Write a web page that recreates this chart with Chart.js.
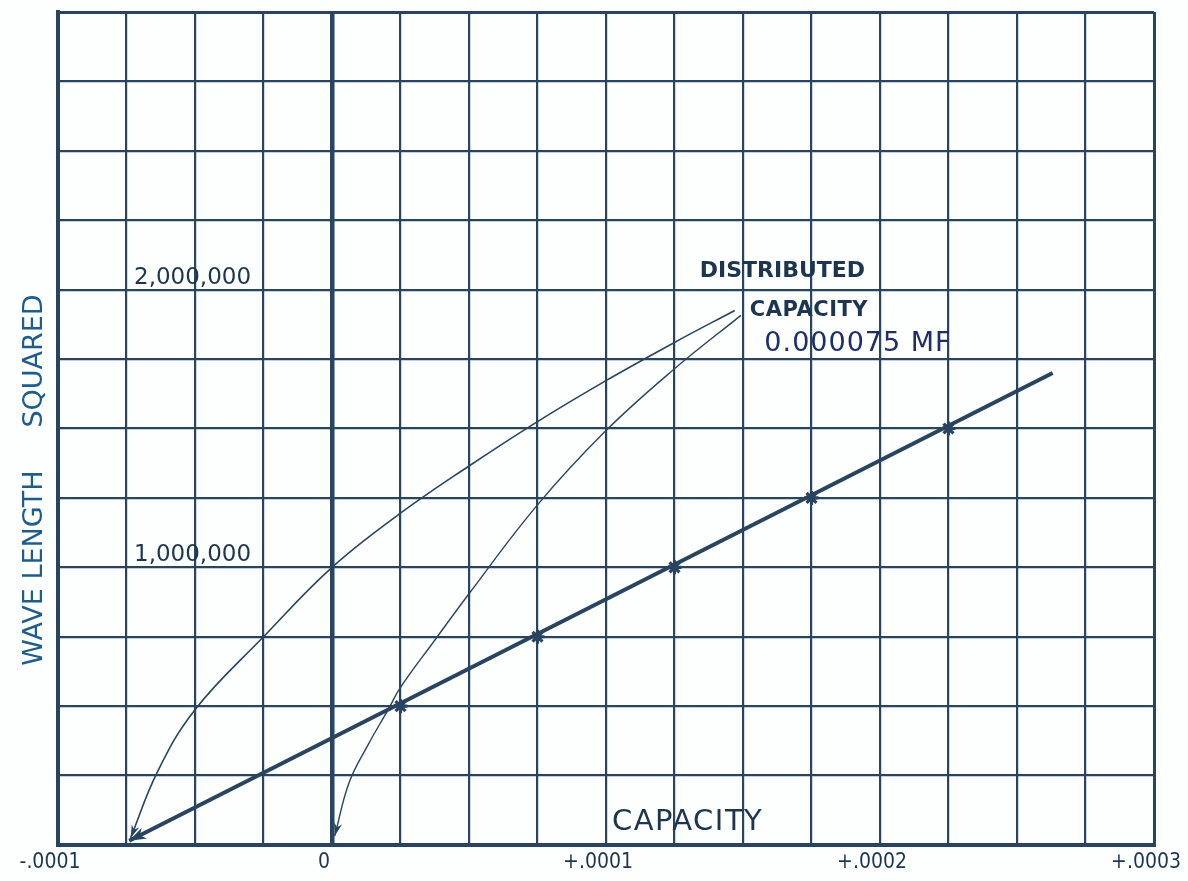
<!DOCTYPE html>
<html>
<head>
<meta charset="utf-8">
<script src="https://cdn.jsdelivr.net/npm/chart.js@4.4.1/dist/chart.umd.min.js"></script>
<style>
  html, body { margin: 0; padding: 0; background: #fdfefe; }
  #wrap { width: 1188px; height: 881px; }
</style>
</head>
<body>
<div id="wrap"><canvas id="chart" width="1188" height="881"></canvas></div>
<script>
// capacity (MF) against wave length squared
const X_TICK_LABELS = ['-.0001', '0', '+.0001', '+.0002', '+.0003'];
const Y_LABEL_VALUES = [1000000, 2000000];
const Y_LABEL_TEXT = ['1,000,000', '2,000,000'];

// measured points
const MEAS_C = [0.000025, 0.000075, 0.000125, 0.000175, 0.000225];
const MEAS_W = [500000, 750000, 1000000, 1250000, 1500000];

// straight line through them, run down to the capacity axis
const LINE_C = [-0.000074, 0.000263];
const LINE_W = [15000, 1700000];

// the two thin leader curves
const UP_C = [-0.0000735, -0.00006375, -0.00005, -0.000025, 0, 0.000025, 0.00005, 0.000075, 0.0001, 0.000125, 0.000147];
const UP_W = [25000, 262500, 487500, 750000, 1000000, 1195000, 1365000, 1525000, 1672500, 1810000, 1925000];
const LO_C = [0.000001, 0.00000625, 0.00001325, 0.0000205, 0.000025, 0.0000375, 0.00005, 0.000075, 0.0001, 0.000125, 0.00014925];
const LO_W = [32500, 225000, 362500, 487500, 567500, 737500, 905000, 1225000, 1492500, 1715000, 1907500];

const INK = '#28445f';
const TEXT = '#1e3550';
const BLUE = '#1d5c8c';
const NAVY = '#1f2d6b';
const FONT = '"DejaVu Sans", sans-serif';

const pts = (xs, ys) => xs.map((x, i) => ({ x, y: ys[i] }));

// lettering written on the sheet, anchored in data units
const NOTES = [
  { text: 'DISTRIBUTED', c: 0.0001342, w: 2066000, font: 'bold 22px ' + FONT, color: TEXT, spacing: 0 },
  { text: 'CAPACITY', c: 0.0001525, w: 1925000, font: 'bold 21px ' + FONT, color: TEXT, spacing: 0.5 },
  { text: '0.000075 MF', c: 0.0001578, w: 1804000, font: '27px ' + FONT, color: NAVY, spacing: 1 },
  { text: 'CAPACITY', c: 0.0001022, w: 81000, font: '29px ' + FONT, color: TEXT, spacing: 1.5 },
];

const notesPlugin = {
  id: 'notes',
  afterDraw(chart) {
    const { ctx, scales: { x, y } } = chart;
    ctx.save();
    ctx.textAlign = 'left';
    ctx.textBaseline = 'middle';
    NOTES.forEach(n => {
      ctx.font = n.font;
      ctx.fillStyle = n.color;
      ctx.letterSpacing = n.spacing + 'px';
      ctx.fillText(n.text, x.getPixelForValue(n.c), y.getPixelForValue(n.w));
    });
    ctx.restore();
  }
};

const arrowHeads = {
  id: 'arrowHeads',
  afterDatasetsDraw(chart) {
    const ctx = chart.ctx;
    chart.data.datasets.forEach((ds, i) => {
      if (!ds.arrowStart) return;
      const p = chart.getDatasetMeta(i).data;
      const a = p[0], b = p[1];
      const ang = Math.atan2(a.y - b.y, a.x - b.x);
      const heavy = ds.borderWidth > 2;
      const len = heavy ? 17 : 13, half = heavy ? 6 : 4;
      ctx.save();
      ctx.fillStyle = ds.borderColor;
      ctx.translate(a.x, a.y);
      ctx.rotate(ang);
      ctx.beginPath();
      ctx.moveTo(0, 0);
      ctx.lineTo(-len, -half);
      ctx.lineTo(-len * 0.7, 0);
      ctx.lineTo(-len, half);
      ctx.closePath();
      ctx.fill();
      ctx.restore();
    });
  }
};

new Chart(document.getElementById('chart'), {
  type: 'scatter',
  data: {
    datasets: [
      { data: pts(UP_C, UP_W), showLine: true, borderColor: INK, borderWidth: 1.6, pointRadius: 0, tension: 0.4, arrowStart: true },
      { data: pts(LO_C, LO_W), showLine: true, borderColor: INK, borderWidth: 1.4, pointRadius: 0, tension: 0.4, arrowStart: true },
      { data: pts(LINE_C, LINE_W), showLine: true, borderColor: INK, borderWidth: 4, pointRadius: 0, arrowStart: true },
      { data: pts(MEAS_C, MEAS_W), showLine: false, pointStyle: 'star', pointRadius: 7, borderColor: INK, backgroundColor: INK, borderWidth: 3.2 },
    ]
  },
  options: {
    responsive: false,
    animation: false,
    layout: { padding: { top: 12, right: 34, left: 0, bottom: 0 } },
    plugins: { legend: { display: false }, tooltip: { enabled: false } },
    scales: {
      x: {
        type: 'linear',
        min: -0.0001,
        max: 0.0003,
        afterFit(s) { s.height = 36; s.paddingLeft = 0; s.paddingRight = 0; },
        ticks: {
          stepSize: 0.000025,
          autoSkip: false,
          maxRotation: 0,
          padding: 5,
          labelOffset: -8,
          color: TEXT,
          font: { family: '"DejaVu Sans Condensed", "DejaVu Sans"', size: 21 },
          callback: (v, i) => (i % 4 === 0 ? X_TICK_LABELS[i / 4] : ''),
        },
        grid: {
          color: INK,
          drawTicks: false,
          lineWidth: c => (Math.abs(c.tick.value) < 1e-9 ? 4.5 : (c.index === 0 || c.index === 16 ? 3 : 2.2)),
        },
        border: { display: true, color: INK, width: 4 },
      },
      y: {
        type: 'linear',
        min: 0,
        max: 3000000,
        afterFit(s) { s.width = 58; s.paddingTop = 0; s.paddingBottom = 0; },
        ticks: {
          stepSize: 250000,
          autoSkip: false,
          mirror: true,
          padding: 76,
          labelOffset: -12,
          color: TEXT,
          font: { family: 'DejaVu Sans', size: 23 },
          callback: v => {
            const k = Y_LABEL_VALUES.indexOf(v);
            return k < 0 ? '' : Y_LABEL_TEXT[k];
          },
        },
        grid: {
          color: INK,
          drawTicks: false,
          lineWidth: c => (c.index === 0 || c.index === 12 ? 3 : 2.2),
        },
        border: { display: true, color: INK, width: 4 },
        title: {
          display: true,
          text: 'WAVE LENGTH     SQUARED            ',
          color: BLUE,
          font: { family: 'DejaVu Sans', size: 27 },
          padding: { top: 19, bottom: 0 },
        },
      },
    },
  },
  plugins: [arrowHeads, notesPlugin],
});
</script>
</body>
</html>
